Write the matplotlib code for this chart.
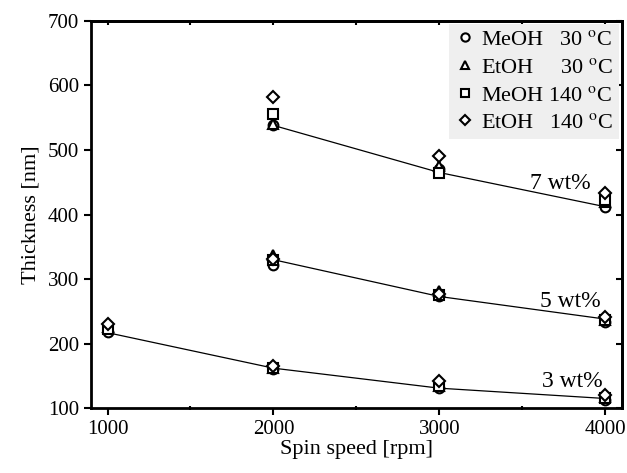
import numpy as np
import matplotlib
matplotlib.use('Agg')
from matplotlib import pyplot as plt

plt.rcParams['font.family'] = ['Liberation Serif', 'DejaVu Serif']
plt.rcParams['mathtext.fontset'] = 'stix'

# data
speed = [1000, 2000, 3000, 4000]
speed_5 = [2000, 3000, 4000]

labels = ['MeOH   30 $^{\\rm o}$C', 'EtOH     30 $^{\\rm o}$C',
          'MeOH 140 $^{\\rm o}$C', 'EtOH   140 $^{\\rm o}$C']
markers = ['o', '^', 's', 'D']

# 3 wt% (1000..4000 rpm)
meoh30_3 = [218, 160, 132, 113]
etoh30_3 = [225, 162, 135, 118]
meoh140_3 = [223, 163, 134, 116]
etoh140_3 = [230, 166, 142, 121]
fit_3 = [217, 162, 131, 115]

# 5 wt% (2000..4000 rpm)
meoh30_5 = [322, 274, 234]
etoh30_5 = [337, 282, 236]
meoh140_5 = [330, 276, 236]
etoh140_5 = [331, 277, 241]
fit_5 = [330, 273, 238]

# 7 wt% (2000..4000 rpm)
meoh30_7 = [538, 470, 411]
etoh30_7 = [540, 475, 420]
meoh140_7 = [555, 465, 422]
etoh140_7 = [582, 490, 433]
fit_7 = [538, 465, 412]

fig = plt.figure(figsize=(6.27, 4.73), dpi=100)
ax = fig.add_axes([0.145, 0.137, 0.847, 0.819])

ax.plot(speed, fit_3, color='black', lw=0.9, zorder=1)
ax.plot(speed_5, fit_5, color='black', lw=0.9, zorder=1)
ax.plot(speed_5, fit_7, color='black', lw=0.9, zorder=1)

groups = [
    (meoh30_3, meoh30_5, meoh30_7),
    (etoh30_3, etoh30_5, etoh30_7),
    (meoh140_3, meoh140_5, meoh140_7),
    (etoh140_3, etoh140_5, etoh140_7),
]
for i, (g3, g5, g7) in enumerate(groups):
    ms = 6 if markers[i] == 'D' else 7
    kw = dict(ls='none', marker=markers[i], mfc='white', mec='black', mew=1.5, ms=ms, zorder=3)
    ax.plot(speed, g3, label=labels[i], **kw)
    ax.plot(speed_5, g5, **kw)
    ax.plot(speed_5, g7, **kw)

ax.text(3730, 448, '7 wt%', fontsize=17, ha='center', va='center')
ax.text(3790, 266, '5 wt%', fontsize=17, ha='center', va='center')
ax.text(3800, 142, '3 wt%', fontsize=17, ha='center', va='center')

ax.set_xlim(900, 4100)
ax.set_ylim(100, 700)
ax.set_xticks([1000, 2000, 3000, 4000])
ax.set_xticks([1500, 2500, 3500], minor=True)
ax.set_yticks(np.arange(100, 701, 100))
ax.tick_params(axis='both', which='major', labelsize=15, width=1.5, length=5, direction='out')
ax.tick_params(axis='x', which='minor', width=1.5, length=3, direction='inout')
ax.tick_params(axis='both', which='major', top=False, right=False)
sec_x = ax.secondary_xaxis('top')
sec_x.set_xticks([1000, 1500, 2000, 2500, 3000, 3500, 4000])
sec_x.tick_params(direction='in', length=3, width=1.5, labeltop=False)
sec_y = ax.secondary_yaxis('right')
sec_y.set_yticks(np.arange(100, 701, 100))
sec_y.tick_params(direction='in', length=4, width=1.5, labelright=False)
for s in ax.spines.values():
    s.set_linewidth(2)
sec_x.spines['top'].set_linewidth(2)
sec_y.spines['right'].set_linewidth(2)

ax.set_xlabel('Spin speed [rpm]', fontsize=16, labelpad=1)
ax.set_ylabel('Thickness [nm]', fontsize=16, labelpad=5)

leg = ax.legend(loc='upper right', fontsize=16, frameon=True, fancybox=False,
                handletextpad=0.2, handlelength=1.0, borderpad=0.25,
                labelspacing=0.32, borderaxespad=0.15, markerscale=0.85)
leg.get_frame().set_facecolor('#efefef')
leg.get_frame().set_edgecolor('none')
leg.get_frame().set_alpha(1)

fig.savefig('out.png', dpi=100)
